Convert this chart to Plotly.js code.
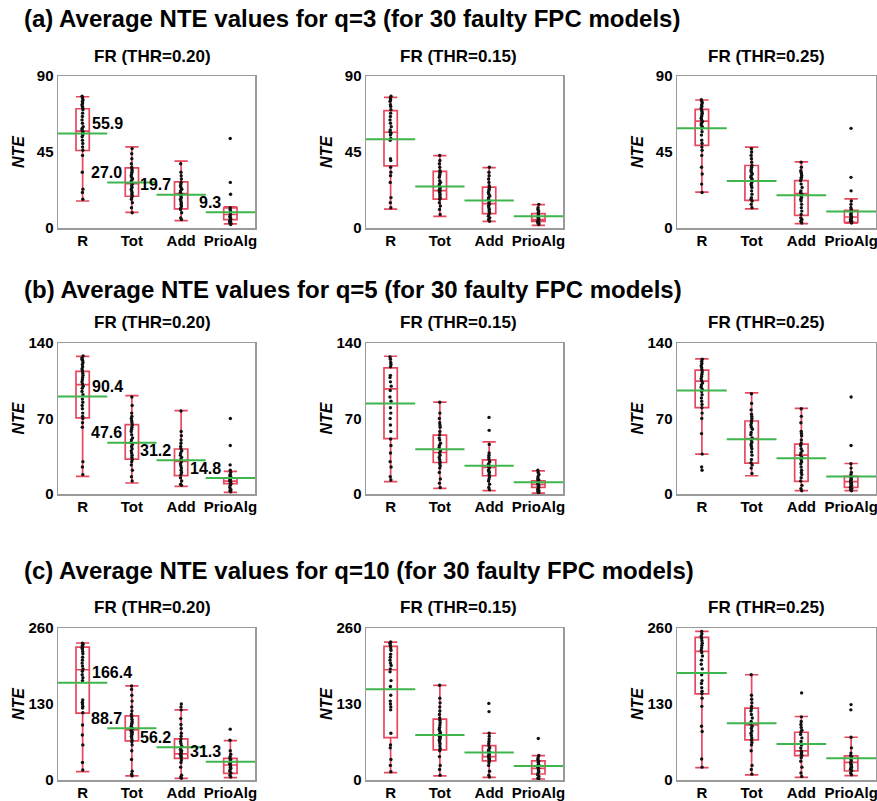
<!DOCTYPE html>
<html>
<head>
<meta charset="utf-8">
<script src="https://cdn.plot.ly/plotly-3.0.1.min.js"></script>
<style>html,body{margin:0;padding:0;background:#fff;}#chart{width:877px;height:801px;}</style>
</head>
<body>
<div id="chart"></div>
<script>
// ---------- DATA ----------
const categories = ["R", "Tot", "Add", "PrioAlg"];
const rowTitles = [
  "(a) Average NTE values for q=3 (for 30 faulty FPC models)",
  "(b) Average NTE values for q=5 (for 30 faulty FPC models)",
  "(c) Average NTE values for q=10 (for 30 faulty FPC models)"
];
const panelTitles = ["FR (THR=0.20)", "FR (THR=0.15)", "FR (THR=0.25)"];
const yMax = [90, 140, 260];
const yTicks = [[0, 45, 90], [0, 70, 140], [0, 130, 260]];

// box statistics per panel (a1,a2,a3,b1,b2,b3,c1,c2,c3), per category R,Tot,Add,PrioAlg
const lowerFence = [
  [16, 9.3, 4.4, 2.4], [11.2, 6.9, 3.9, 1.6], [21.2, 11.3, 2.6, 2.8],
  [16.4, 10.2, 7.1, 1.5], [11.4, 5.2, 3.1, 0.9], [36.9, 16.9, 3.1, 3.1],
  [14.3, 6.9, 2.9, 4], [12.6, 6.9, 4.6, 1.7], [21.1, 8.6, 4.6, 7.4]
];
const q1 = [
  [45.9, 18.8, 11.3, 4.9], [36.8, 17.1, 8.5, 3.9], [48.9, 16.4, 7.5, 3.4],
  [70.5, 32.4, 17, 9.6], [51.4, 29.2, 16.9, 6.2], [80, 28.6, 11.7, 6.2],
  [114.3, 66.9, 37.1, 11.4], [72.6, 51.4, 32.6, 10.3], [147.4, 68.6, 41.7, 15.4]
];
const median = [
  [57.4, 26.3, 20.4, 8], [56.7, 22.1, 14.4, 4.9], [63.3, 27.7, 20.4, 6.5],
  [101.4, 47.3, 30.3, 12], [97.5, 38.5, 24.6, 9], [104.6, 51.4, 36, 11.4],
  [188.6, 85.7, 44.6, 25.7], [188.6, 77.1, 40, 20], [220, 94.3, 49.7, 30.3]
];
const q3 = [
  [70.6, 35.6, 27.3, 11.9], [69.5, 33.5, 24.2, 8.5], [70.2, 37, 28.1, 10.5],
  [113.7, 64.3, 41.7, 14.8], [116.9, 54.5, 31.7, 12.3], [114.8, 67.7, 46.2, 16.3],
  [227.4, 109.7, 70.3, 37.1], [228.6, 104, 58.9, 32.6], [244, 122.9, 81.7, 41.1]
];
const upperFence = [
  [77.7, 48, 39.6, 12.5], [77.4, 42.9, 35.8, 13.8], [75.8, 47.9, 39.2, 17.2],
  [127.6, 91.2, 77.3, 21], [127.7, 85.2, 48.3, 21.5], [125.2, 93.8, 79.4, 28.3],
  [234.3, 161.1, 120, 67.4], [236, 161.7, 80, 41.7], [254.3, 180, 108.6, 73.1]
];
const means = [
  [55.9, 27.0, 19.7, 9.3], [52.6, 24.6, 16.3, 6.9], [59.1, 27.9, 19.4, 9.7],
  [90.4, 47.6, 31.2, 14.8], [84, 41.5, 26.2, 10.8], [96, 50.8, 33.2, 16.3],
  [166.4, 88.7, 56.2, 31.3], [155.4, 77.1, 46.9, 24], [182.9, 97.1, 61.7, 37.1]
];
// which panels carry mean value labels
const labelledPanels = [0, 3, 6];

// individual NTE values
const pointsA1 = [
  [78,77,76,75,74,73,72,71,70,68,66,64,62,60,59,58,57,56,55,54,52,50,48,46,43,33,23,21,17],
  [47,44,41,38,36,35,34,33,32,31,30,29,28,27,26,25,24,23,22,21,20,19,18,17,15,12,9],
  [38,33,31,29,27,26,25,24,23,22,21,20,19,18,17,16,15,14,13,12,11,9,6,5],
  [53,27,20,12,11,10,9,8,7,6,6,5,5,4,4,3,3,2]
];
const pointsA2 = [
  [78,77,76,75,73,72,70,68,66,64,62,60,58,57,56,55,53,52,41,40,36,33,31,27,18,15,12],
  [43,40,38,36,34,33,32,31,30,28,27,26,25,24,23,22,22,21,20,19,18,17,15,13,11,8],
  [36,33,31,29,27,25,24,23,22,21,20,19,18,17,16,15,14,13,12,11,10,9,8,7,6,5,4],
  [14,12,11,10,9,8,7,6,6,5,5,4,4,3,3,2]
];
const pointsA3 = [
  [76,75,74,73,72,71,70,69,68,67,66,65,64,63,62,61,60,59,57,55,52,50,48,46,43,36,32,26,21],
  [47,45,43,41,39,37,36,35,34,33,32,31,30,29,28,27,26,25,24,22,20,18,17,16,14,12],
  [39,36,34,33,32,31,30,29,28,26,24,22,21,20,19,18,17,16,14,12,10,8,6,5,4,3],
  [59,30,22,16,14,12,11,10,9,8,8,7,6,6,5,5,4,4,3]
];
const pointsB1 = [
  [128,126,125,124,122,120,118,116,114,112,110,108,106,104,102,100,98,95,92,88,85,82,79,75,72,70,66,62,30,25,18],
  [90,82,75,72,70,68,66,64,62,60,58,55,52,50,48,46,44,42,40,38,36,34,32,30,27,22,16,12],
  [77,58,54,50,47,44,42,40,38,36,34,32,30,28,26,24,22,20,18,15,12,9,8],
  [70,45,27,22,20,18,17,16,15,14,13,12,11,10,9,8,6,4,3,2]
];
const pointsB2 = [
  [127,125,122,120,118,110,108,104,100,96,90,86,80,75,70,64,58,51,45,38,30,25,16,13],
  [85,75,70,66,64,62,58,55,52,50,47,45,43,40,38,36,34,32,30,28,26,24,20,14,10,6],
  [71,59,46,38,36,34,32,30,28,27,26,25,24,22,21,20,18,16,14,12,9,6,4],
  [22,20,18,16,14,13,12,11,10,9,8,7,6,5,4,3,2,1]
];
const pointsB3 = [
  [125,123,121,119,117,115,113,111,109,107,105,103,101,99,97,95,92,89,86,83,80,75,70,56,37,25,22],
  [93,84,78,74,72,70,68,66,64,62,60,57,55,52,50,48,46,44,42,39,36,32,29,27,24,19],
  [79,72,66,58,56,54,50,47,45,42,40,38,36,34,32,30,28,25,22,20,18,15,12,8,5,3],
  [90,45,28,24,20,18,16,15,14,13,12,11,10,9,8,7,6,5,4,3]
];
const pointsC1 = [
  [234,232,230,228,226,224,220,216,210,205,200,195,190,186,180,175,170,137,133,130,126,123,115,94,77,60,30,17],
  [161,155,145,135,125,118,112,108,104,100,97,94,92,90,88,86,84,82,80,78,75,72,68,65,60,50,35,15,10,7],
  [130,125,120,105,95,88,80,75,70,66,62,58,55,52,50,48,46,44,42,40,38,34,30,22,8,5,3],
  [87,68,50,44,40,37,35,32,30,28,26,24,22,20,18,15,12,8,5]
];
const pointsC2 = [
  [236,234,230,226,222,215,210,205,200,196,190,185,170,160,145,135,130,125,120,80,60,55,35,25,14],
  [162,140,132,125,118,112,106,102,98,94,90,87,84,81,78,76,74,72,70,68,65,62,58,54,50,40,25,18,8],
  [131,117,80,75,70,66,62,58,55,52,50,48,45,43,41,39,37,35,33,30,25,15,8,5],
  [71,42,38,35,32,30,27,24,22,20,17,14,12,9,6,3,2]
];
const pointsC3 = [
  [254,250,246,242,238,234,230,226,222,218,212,205,198,190,180,170,165,158,152,148,140,126,92,83,36,22],
  [180,145,138,132,126,122,118,112,106,100,96,92,88,84,80,76,72,68,64,60,50,25,18,10],
  [149,108,100,95,90,85,82,78,72,66,60,55,50,47,44,42,38,32,22,12,6],
  [129,120,73,55,46,42,40,36,33,30,28,26,24,22,20,18,16,12,9]
];
const allPoints = [pointsA1, pointsA2, pointsA3, pointsB1, pointsB2, pointsB3, pointsC1, pointsC2, pointsC3];

// ---------- LAYOUT / DRAWING ----------
const W = 877, H = 801;
const FONT = "Liberation Sans, Arial, Helvetica, sans-serif";
const RED = "#e8485e", GREEN = "#3fb54e", FRAME = "#9a9a9a";
const colPx = [[58, 255], [366, 563], [677, 876]];
const rowPx = [[76, 228], [343, 494], [628, 780]];
const rowTitleY = [18.5, 289, 570];
const panelTitleY = [57, 322, 607];
const panelTitleX = [152, 458, 766];
const idx = categories.map((c, i) => i);

const traces = [];
const layout = {
  width: W, height: H,
  margin: {l: 0, r: 0, t: 0, b: 0},
  paper_bgcolor: "#fff", plot_bgcolor: "#fff",
  showlegend: false,
  font: {family: FONT, color: "#000"},
  annotations: []
};

for (let k = 0; k < 9; k++) {
  const r = Math.floor(k / 3), c = k % 3;
  const n = k + 1;
  const xa = "x" + (n === 1 ? "" : n), ya = "y" + (n === 1 ? "" : n);
  const xKey = "xaxis" + (n === 1 ? "" : n), yKey = "yaxis" + (n === 1 ? "" : n);

  layout[xKey] = {
    domain: [colPx[c][0] / W, colPx[c][1] / W],
    anchor: ya, range: [-0.5, 3.5],
    tickvals: idx, ticktext: categories, ticks: "", ticklen: 0,
    ticklabeloverflow: "allow", ticklabelstandoff: -2,
    showgrid: false, zeroline: false,
    showline: true, mirror: true, linecolor: FRAME, linewidth: 1.5,
    tickfont: {family: FONT, size: 15, color: "#000", weight: "bold"},
    fixedrange: true
  };
  layout[yKey] = {
    domain: [1 - rowPx[r][1] / H, 1 - rowPx[r][0] / H],
    anchor: xa, range: [0, yMax[r]],
    tickvals: yTicks[r], ticks: "", ticklen: 0,
    ticklabeloverflow: "allow",
    showgrid: false, zeroline: false,
    showline: true, mirror: true, linecolor: FRAME, linewidth: 1.5,
    tickfont: {family: FONT, size: 15, color: "#000", weight: "bold"},
    fixedrange: true
  };

  // box (precomputed statistics)
  traces.push({
    type: "box", xaxis: xa, yaxis: ya,
    x: idx, q1: q1[k], median: median[k], q3: q3[k],
    lowerfence: lowerFence[k], upperfence: upperFence[k],
    boxpoints: false, width: 0.27, whiskerwidth: 1,
    fillcolor: "rgba(0,0,0,0)", line: {color: RED, width: 1.7},
    hoverinfo: "skip"
  });

  // mean lines spanning each category slot
  const mx = [], my = [];
  means[k].forEach((m, i) => { mx.push(i - 0.5, i + 0.5, null); my.push(m, m, null); });
  traces.push({
    type: "scatter", mode: "lines", xaxis: xa, yaxis: ya,
    x: mx, y: my, line: {color: GREEN, width: 2}, hoverinfo: "skip"
  });

  // dots (invisible box carrying all points)
  allPoints[k].forEach((pts, i) => {
    traces.push({
      type: "box", xaxis: xa, yaxis: ya,
      x: pts.map(() => i), y: pts,
      boxpoints: "all", jitter: 0.12, pointpos: 0, width: 0.27,
      fillcolor: "rgba(0,0,0,0)", line: {color: "rgba(0,0,0,0)", width: 0},
      marker: {color: "#111", size: 3.4},
      hoverinfo: "skip"
    });
  });

  // panel title
  layout.annotations.push({
    xref: "paper", yref: "paper",
    x: panelTitleX[c] / W, y: 1 - panelTitleY[r] / H,
    xanchor: "center", yanchor: "middle", showarrow: false,
    text: "<b>" + panelTitles[c] + "</b>",
    font: {family: FONT, size: 17, color: "#000"}
  });
  // y-axis title NTE
  layout.annotations.push({
    xref: "paper", yref: "paper",
    x: (colPx[c][0] - 40) / W, y: 1 - (rowPx[r][0] + rowPx[r][1]) / 2 / H,
    xanchor: "center", yanchor: "middle", showarrow: false, textangle: -90,
    text: "<b><i>NTE</i></b>",
    font: {family: FONT, size: 16, color: "#000"}
  });

  // mean value labels
  if (labelledPanels.indexOf(k) >= 0) {
    means[k].forEach((m, i) => {
      layout.annotations.push({
        xref: xa, yref: ya,
        x: i === 0 ? 0.15 : i - 0.16, y: m,
        xanchor: i === 0 ? "left" : "right", yanchor: "middle",
        yshift: 10, showarrow: false,
        text: "<b>" + m.toFixed(1) + "</b>",
        font: {family: FONT, size: 16, color: "#000"}
      });
    });
  }
}

// row titles
rowTitles.forEach((t, r) => {
  layout.annotations.push({
    xref: "paper", yref: "paper",
    x: 22 / W, y: 1 - rowTitleY[r] / H,
    xanchor: "left", yanchor: "middle", showarrow: false,
    text: "<b>" + t + "</b>",
    font: {family: FONT, size: 24, color: "#000"}
  });
});

Plotly.newPlot("chart", traces, layout, {staticPlot: true, displayModeBar: false});
</script>
</body>
</html>
